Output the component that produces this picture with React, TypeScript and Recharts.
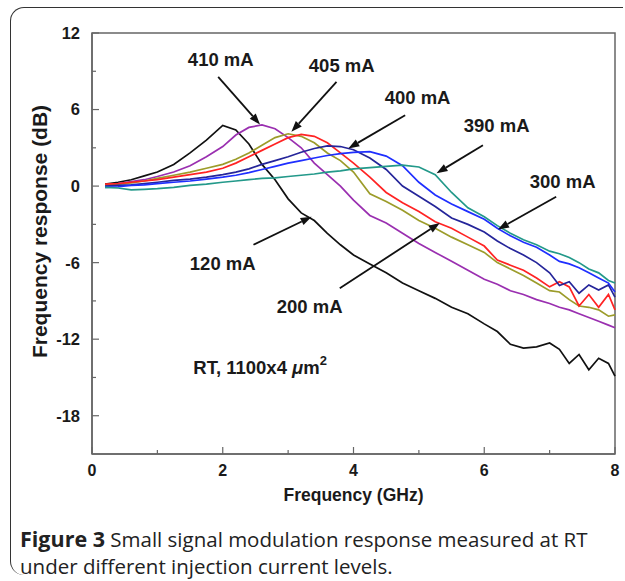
import React from "react";
import { LineChart, Line, XAxis, YAxis, ReferenceArea, ReferenceLine, ReferenceDot } from "recharts";

// frequency grid (GHz) shared by all traces
const FREQ = [
  0.2, 0.4, 0.6, 0.8, 1.0, 1.25, 1.5, 1.75, 2.0, 2.2, 2.4, 2.6, 2.8, 3.0, 3.2, 3.4, 3.6, 3.8, 4.0,
  4.25, 4.5, 4.75, 5.0, 5.25, 5.5, 5.75, 6.0, 6.2, 6.4, 6.6, 6.8, 7.0, 7.15, 7.3, 7.45, 7.6, 7.75, 7.9, 8.0,
];

// response in dB, one array per trace
const BLACK = [
  0.15, 0.3, 0.5, 0.8, 1.1, 1.7, 2.6, 3.6, 4.75, 4.4, 3.3, 1.7, 0.5, -1.0, -2.1, -2.7, -3.7, -4.6, -5.4,
  -6.1, -6.8, -7.6, -8.2, -8.8, -9.5, -10.0, -10.8, -11.4, -12.4, -12.7, -12.6, -12.3, -12.8, -13.9, -13.2, -14.4, -13.5, -13.9, -14.9,
];
const PURPLE = [
  0.1, 0.2, 0.35, 0.5, 0.75, 1.1, 1.6, 2.3, 3.1, 4.0, 4.6, 4.8, 4.5, 3.8, 3.0, 1.8, 0.9, 0.0, -1.1,
  -2.3, -2.9, -3.7, -4.5, -5.2, -5.9, -6.6, -7.3, -7.7, -8.2, -8.5, -8.9, -9.2, -9.5, -9.7, -10.0, -10.3, -10.6, -10.9, -11.1,
];
const OLIVE = [
  0.1, 0.15, 0.25, 0.4, 0.6, 0.85, 1.1, 1.4, 1.7, 2.1, 2.6, 3.2, 3.8, 4.1, 3.9, 3.4, 2.6, 2.0, 1.1,
  -0.6, -1.2, -1.9, -2.7, -3.3, -4.0, -4.6, -5.2, -6.0, -6.5, -7.0, -7.6, -8.2, -8.3, -8.9, -9.4, -9.5, -9.7, -10.2, -10.1,
];
const RED = [
  0.15, 0.2, 0.3, 0.4, 0.5, 0.7, 0.9, 1.1, 1.4, 1.8, 2.3, 2.8, 3.3, 3.8, 4.05, 3.9, 3.4, 2.6, 1.8,
  0.7, -0.5, -1.3, -2.0, -2.8, -3.3, -4.0, -4.7, -5.8, -6.2, -6.6, -7.2, -7.9, -7.5, -7.9, -9.4, -8.5, -9.5, -8.5, -9.7,
];
const NAVY = [
  0.0, 0.05, 0.1, 0.2, 0.3, 0.45, 0.55, 0.7, 0.9, 1.1, 1.35, 1.7, 2.0, 2.3, 2.65, 2.95, 3.15, 3.1, 2.85,
  2.2, 1.3, 0.0, -0.8, -1.6, -2.5, -3.0, -3.6, -4.3, -4.9, -5.4, -6.0, -6.8, -7.8, -7.5, -8.4, -7.75, -8.15, -7.75, -8.7,
];
const BLUE = [
  -0.1, -0.05, 0.05, 0.1, 0.2, 0.3, 0.4, 0.55, 0.7, 0.85, 1.05, 1.3, 1.55, 1.8, 2.0, 2.2, 2.4, 2.55, 2.65,
  2.7, 2.35, 1.6, 0.3, -0.7, -1.4, -2.0, -2.6, -3.3, -3.9, -4.4, -4.8, -5.4, -5.9, -6.1, -6.4, -6.8, -7.2, -7.6, -8.3,
];
const TEAL = [
  -0.1, -0.15, -0.3, -0.25, -0.2, -0.1, 0.05, 0.15, 0.3, 0.4, 0.5, 0.6, 0.65, 0.75, 0.85, 0.95, 1.1, 1.2, 1.35,
  1.45, 1.55, 1.65, 1.5, 0.9, -0.5, -1.7, -2.4, -3.1, -3.7, -4.2, -4.6, -5.1, -5.3, -5.6, -6.0, -6.5, -6.8, -7.4, -7.6,
];

const SERIES = [
  { key: "black", values: BLACK, color: "#111111" },
  { key: "purple", values: PURPLE, color: "#9a2fb0" },
  { key: "olive", values: OLIVE, color: "#9c9c2a" },
  { key: "red", values: RED, color: "#ff2323" },
  { key: "navy", values: NAVY, color: "#25259a" },
  { key: "blue", values: BLUE, color: "#1f2fff" },
  { key: "teal", values: TEAL, color: "#23998a" },
];

// current labels, their centres, and the arrows (from -> to) in GHz / dB
const LABELS = ["410 mA", "405 mA", "400 mA", "390 mA", "300 mA", "200 mA", "120 mA"];
const LABEL_POS = [
  [1.97, 9.95], [3.82, 9.47], [4.98, 6.97], [6.19, 4.78], [7.2, 0.4], [3.33, -9.45], [2.0, -6.06],
];
const ARROWS = [
  [[1.93, 8.56], [2.57, 4.83]],
  [[3.74, 8.17], [3.05, 4.25]],
  [[4.79, 5.56], [3.92, 2.95]],
  [[5.98, 3.2], [5.27, 1.0]],
  [[7.1, -0.84], [6.21, -3.4]],
  [[3.79, -8.0], [5.32, -2.9]],
  [[2.47, -4.6], [3.36, -2.4]],
];

const X_TICKS = [0, 1, 2, 3, 4, 5, 6, 7, 8];
const Y_TICKS = [-18, -15, -12, -9, -6, -3, 0, 3, 6, 9, 12];

const data = FREQ.map((f, i) => {
  const row: any = { f };
  SERIES.forEach((s) => (row[s.key] = s.values[i]));
  return row;
});

const FONT = "'Liberation Sans', Arial, sans-serif";
const AXIS = "#666";
const TXT = "#1a1a1a";
const TICK_GAP = 10;

const XTick = (props: any) => {
  const { x, y, payload } = props;
  const major = payload.value % 2 === 0;
  const base = y - TICK_GAP;
  return (
    <g>
      <line x1={x} x2={x} y1={base} y2={base - (major ? 7 : 4)} stroke={AXIS} strokeWidth={1.2} />
      {major && (
        <text x={x} y={y + 12} textAnchor="middle" fontSize={16} fontWeight="bold" fill={TXT} fontFamily={FONT}>
          {payload.value}
        </text>
      )}
    </g>
  );
};

const YTick = (props: any) => {
  const { x, y, payload } = props;
  const major = payload.value % 6 === 0;
  const base = x + TICK_GAP;
  return (
    <g>
      <line x1={base} x2={base + (major ? 7 : 4)} y1={y} y2={y} stroke={AXIS} strokeWidth={1.2} />
      {major && (
        <text x={x - 2} y={y} dy="0.36em" textAnchor="end" fontSize={16.5} fontWeight="bold" fill={TXT} fontFamily={FONT}>
          {payload.value}
        </text>
      )}
    </g>
  );
};

const XTitle = (props: any) => {
  const vb = props.viewBox;
  return (
    <text x={vb.x + vb.width / 2} y={vb.y + 47} textAnchor="middle" fontSize={17.5} fontWeight="bold" fill={TXT} fontFamily={FONT}>
      Frequency (GHz)
    </text>
  );
};

const YTitle = (props: any) => {
  const vb = props.viewBox;
  const cx = vb.x + 39;
  const cy = vb.y + vb.height / 2 - 12;
  return (
    <text
      x={cx}
      y={cy}
      dy="0.36em"
      transform={`rotate(-90 ${cx} ${cy})`}
      textAnchor="middle"
      fontSize={21}
      fontWeight="bold"
      fill={TXT}
      fontFamily={FONT}
    >
      Frequency response (dB)
    </text>
  );
};

const Arrow = (props: any) => {
  const { x1, y1, x2, y2 } = props;
  const ang = Math.atan2(y2 - y1, x2 - x1);
  const len = 11;
  const w = 4;
  const bx = x2 - len * Math.cos(ang);
  const by = y2 - len * Math.sin(ang);
  const px = -Math.sin(ang) * w;
  const py = Math.cos(ang) * w;
  return (
    <g>
      <line x1={x1} y1={y1} x2={bx} y2={by} stroke="#111" strokeWidth={1.8} />
      <polygon points={`${x2},${y2} ${bx + px},${by + py} ${bx - px},${by - py}`} fill="#111" />
    </g>
  );
};

const labelShape = (text: string) => (p: any) => (
  <text x={p.cx} y={p.cy} dy="0.36em" textAnchor="middle" fontSize={18.5} fontWeight="bold" fill={TXT} fontFamily={FONT}>
    {text}
  </text>
);

const noteShape = (p: any) => (
  <text x={p.cx} y={p.cy} dy="0.36em" fontSize={18.5} fontWeight="bold" fill={TXT} fontFamily={FONT}>
    RT, 1100x4 <tspan fontStyle="italic">μ</tspan>m
    <tspan dy="-9" fontSize={13}>2</tspan>
  </text>
);

export default function App() {
  return (
    <div style={{ position: "absolute", left: 0, top: 0, width: 625, height: 581, background: "#fff", overflow: "hidden" }}>
      <div
        style={{
          position: "absolute",
          left: 10,
          top: 7,
          width: 613,
          height: 568,
          borderTop: "1.5px solid #333",
          borderLeft: "1.5px solid #333",
          borderTopLeftRadius: 14,
          borderBottomLeftRadius: 14,
          boxSizing: "border-box",
        }}
      />
      <div style={{ position: "absolute", left: 0, top: 0 }}>
        <LineChart width={625} height={510} data={data} margin={{ top: 33, right: 10, bottom: 6, left: 0 }}>
          <XAxis
            dataKey="f"
            type="number"
            domain={[0, 8]}
            ticks={X_TICKS}
            interval={0}
            tickSize={0}
            tickMargin={TICK_GAP}
            tickLine={false}
            tick={<XTick />}
            axisLine={{ stroke: AXIS, strokeWidth: 1.5 }}
            height={50}
            label={<XTitle />}
          />
          <YAxis
            type="number"
            domain={[-21, 12]}
            ticks={Y_TICKS}
            interval={0}
            tickSize={0}
            tickMargin={TICK_GAP}
            tickLine={false}
            tick={<YTick />}
            axisLine={{ stroke: AXIS, strokeWidth: 1.5 }}
            width={92}
            label={<YTitle />}
          />
          <ReferenceArea x1={0} x2={8} y1={-21} y2={12} fill="none" stroke={AXIS} strokeWidth={1.5} />
          {SERIES.map((s) => (
            <Line
              key={s.key}
              dataKey={s.key}
              type="linear"
              stroke={s.color}
              strokeWidth={1.7}
              dot={false}
              activeDot={false}
              isAnimationActive={false}
            />
          ))}
          {ARROWS.map((a, i) => (
            <ReferenceLine
              key={"a" + i}
              segment={[{ x: a[0][0], y: a[0][1] }, { x: a[1][0], y: a[1][1] }]}
              shape={Arrow}
            />
          ))}
          {LABELS.map((t, i) => (
            <ReferenceDot key={"l" + i} x={LABEL_POS[i][0]} y={LABEL_POS[i][1]} shape={labelShape(t)} />
          ))}
          <ReferenceDot x={1.55} y={-14.2} shape={noteShape} />
        </LineChart>
      </div>
      <div
        style={{
          position: "absolute",
          left: 20,
          top: 525,
          width: 603,
          fontFamily: "'Open Sans', sans-serif",
          fontSize: 20.5,
          lineHeight: "27px",
          color: "#222",
          whiteSpace: "nowrap",
        }}
      >
        <b style={{ fontSize: 21.5 }}>Figure 3</b> Small signal modulation response measured at RT
        <br />
        under different injection current levels.
      </div>
    </div>
  );
}
